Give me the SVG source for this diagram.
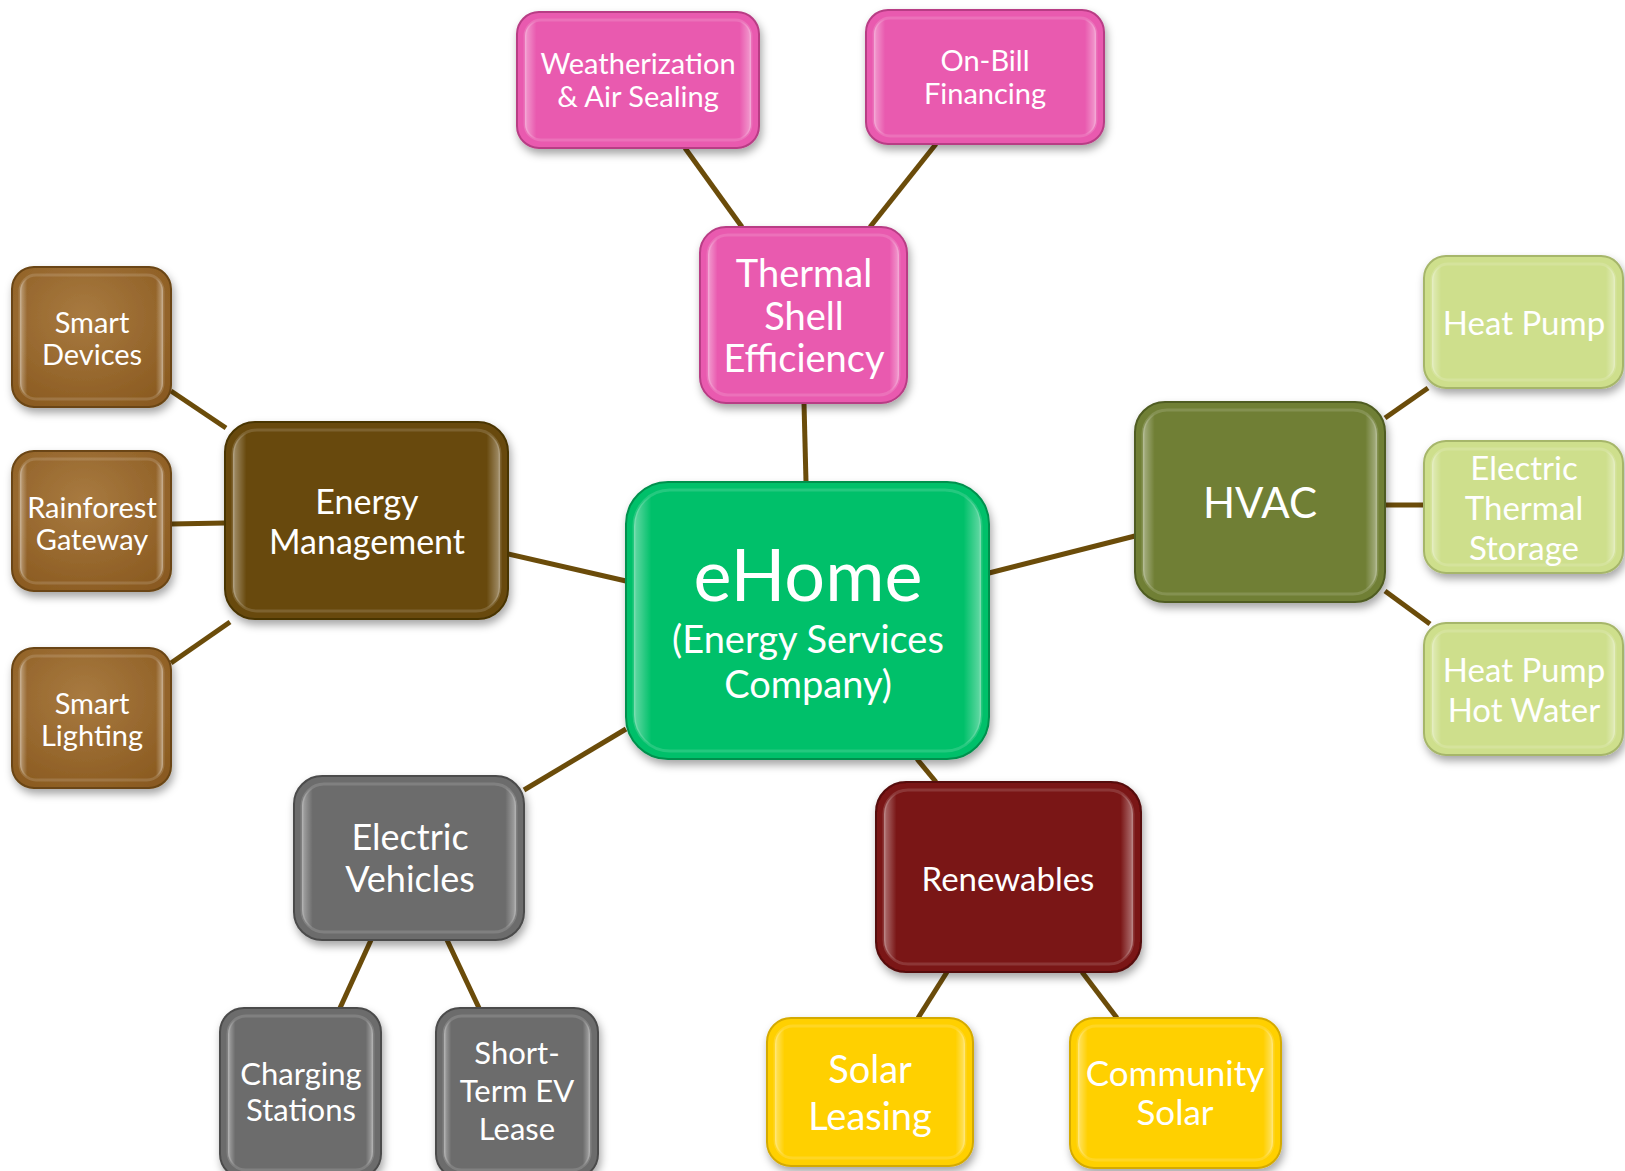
<svg xmlns="http://www.w3.org/2000/svg" width="1625" height="1171" viewBox="0 0 1625 1171">
<defs>
<filter id="sh" x="-10%" y="-10%" width="125%" height="130%">
<feDropShadow dx="2" dy="5" stdDeviation="4" flood-color="#000" flood-opacity="0.35"/>
</filter>
<linearGradient id="gloss" x1="0" y1="0" x2="1" y2="0">
<stop offset="0" stop-color="#fff" stop-opacity="0.4"/>
<stop offset="0.05" stop-color="#fff" stop-opacity="0.0"/>
<stop offset="0.95" stop-color="#fff" stop-opacity="0.0"/>
<stop offset="1" stop-color="#fff" stop-opacity="0.4"/>
</linearGradient>
<radialGradient id="brownG" cx="0.45" cy="0.35" r="0.75">
<stop offset="0" stop-color="#a87a40"/>
<stop offset="1" stop-color="#8a5a20"/>
</radialGradient>
</defs>
<style>
.box{filter:url(#sh);stroke-width:2}
.hl{fill:url(#gloss);stroke:#fff;stroke-opacity:0.14;stroke-width:3}
.t{font-family:Lato,"Open Sans","Liberation Sans",sans-serif;fill:#fff;text-anchor:middle}
.pink{fill:#e95aaf;stroke:#b83d85}
.green{fill:#00c06a;stroke:#00904e}
.emb{fill:#674a0c;stroke:#4a3406}
.brn{fill:url(#brownG);stroke:#6a4512}
.olive{fill:#6f7f34;stroke:#4f5c22}
.lgreen{fill:#cedf8c;stroke:#a6b66a}
.gray{fill:#6c6c6c;stroke:#4c4c4c}
.red{fill:#7a1212;stroke:#540a0a}
.yel{fill:#ffd000;stroke:#d4aa00}
#connectors line{stroke:#6b4c0a;stroke-width:5}
</style>
<rect width="1625" height="1171" fill="#fff"/>
<g id="connectors">
<line x1="685" y1="148" x2="742" y2="227"/>
<line x1="936" y1="144" x2="870" y2="227"/>
<line x1="804" y1="403" x2="806" y2="482"/>
<line x1="171" y1="391" x2="226" y2="428"/>
<line x1="171" y1="524" x2="225" y2="523"/>
<line x1="171" y1="663" x2="230" y2="622"/>
<line x1="508" y1="554" x2="626" y2="581"/>
<line x1="989" y1="573" x2="1135" y2="536"/>
<line x1="1385" y1="418" x2="1428" y2="388"/>
<line x1="1385" y1="505" x2="1424" y2="505"/>
<line x1="1385" y1="591" x2="1430" y2="624"/>
<line x1="626" y1="729" x2="524" y2="790"/>
<line x1="917" y1="759" x2="936" y2="782"/>
<line x1="371" y1="940" x2="340" y2="1008"/>
<line x1="447" y1="940" x2="479" y2="1008"/>
<line x1="947" y1="972" x2="918" y2="1018"/>
<line x1="1082" y1="972" x2="1117" y2="1018"/>
</g>
<g id="weatherization">
<rect class="box pink" x="517" y="12" width="242" height="136" rx="22"/>
<rect class="hl" x="525" y="20" width="226" height="120" rx="16"/>
<text class="t" font-size="29"><tspan x="638" y="74">Weatherization</tspan><tspan x="638" y="107">&amp; Air Sealing</tspan></text>
</g>
<g id="onbill">
<rect class="box pink" x="866" y="10" width="238" height="134" rx="22"/>
<rect class="hl" x="874" y="18" width="222" height="118" rx="16"/>
<text class="t" font-size="29"><tspan x="985" y="71">On-Bill</tspan><tspan x="985" y="104">Financing</tspan></text>
</g>
<g id="thermal">
<rect class="box pink" x="700" y="227" width="207" height="176" rx="26"/>
<rect class="hl" x="708" y="235" width="191" height="160" rx="20"/>
<text class="t" font-size="38"><tspan x="804" y="287">Thermal</tspan><tspan x="804" y="330">Shell</tspan><tspan x="804" y="372">Efficiency</tspan></text>
</g>
<g id="smartdevices">
<rect class="box brn" x="12" y="267" width="159" height="140" rx="22"/>
<rect class="hl" x="20" y="275" width="143" height="124" rx="16"/>
<text class="t" font-size="29"><tspan x="92" y="333">Smart</tspan><tspan x="92" y="365">Devices</tspan></text>
</g>
<g id="rainforest">
<rect class="box brn" x="12" y="451" width="159" height="140" rx="22"/>
<rect class="hl" x="20" y="459" width="143" height="124" rx="16"/>
<text class="t" font-size="29"><tspan x="92" y="518">Rainforest</tspan><tspan x="92" y="550">Gateway</tspan></text>
</g>
<g id="smartlighting">
<rect class="box brn" x="12" y="648" width="159" height="140" rx="22"/>
<rect class="hl" x="20" y="656" width="143" height="124" rx="16"/>
<text class="t" font-size="29"><tspan x="92" y="714">Smart</tspan><tspan x="92" y="746">Lighting</tspan></text>
</g>
<g id="energymgmt">
<rect class="box emb" x="225" y="422" width="283" height="197" rx="30"/>
<rect class="hl" x="233" y="430" width="267" height="181" rx="24"/>
<text class="t" font-size="34"><tspan x="367" y="514">Energy</tspan><tspan x="367" y="554">Management</tspan></text>
</g>
<g id="ehome">
<rect class="box green" x="626" y="482" width="363" height="277" rx="42"/>
<rect class="hl" x="634" y="490" width="347" height="261" rx="36"/>
<text class="t" font-size="72" x="808" y="601">eHome</text>
<text class="t" font-size="38"><tspan x="808" y="653">(Energy Services</tspan><tspan x="808" y="698">Company)</tspan></text>
</g>
<g id="hvac">
<rect class="box olive" x="1135" y="402" width="250" height="200" rx="30"/>
<rect class="hl" x="1143" y="410" width="234" height="184" rx="24"/>
<text class="t" font-size="42" x="1260" y="518">HVAC</text>
</g>
<g id="heatpump">
<rect class="box lgreen" x="1424" y="256" width="199" height="132" rx="22"/>
<rect class="hl" x="1432" y="264" width="183" height="116" rx="16"/>
<text class="t" font-size="33" x="1524" y="335">Heat Pump</text>
</g>
<g id="thermalstorage">
<rect class="box lgreen" x="1424" y="441" width="199" height="132" rx="22"/>
<rect class="hl" x="1432" y="449" width="183" height="116" rx="16"/>
<text class="t" font-size="33"><tspan x="1524" y="480">Electric</tspan><tspan x="1524" y="520">Thermal</tspan><tspan x="1524" y="560">Storage</tspan></text>
</g>
<g id="hotwater">
<rect class="box lgreen" x="1424" y="623" width="199" height="132" rx="22"/>
<rect class="hl" x="1432" y="631" width="183" height="116" rx="16"/>
<text class="t" font-size="33"><tspan x="1524" y="682">Heat Pump</tspan><tspan x="1524" y="722">Hot Water</tspan></text>
</g>
<g id="ev">
<rect class="box gray" x="294" y="776" width="230" height="164" rx="28"/>
<rect class="hl" x="302" y="784" width="214" height="148" rx="22"/>
<text class="t" font-size="36"><tspan x="410" y="850">Electric</tspan><tspan x="410" y="892">Vehicles</tspan></text>
</g>
<g id="charging">
<rect class="box gray" x="220" y="1008" width="161" height="170" rx="24"/>
<rect class="hl" x="228" y="1016" width="145" height="154" rx="18"/>
<text class="t" font-size="31"><tspan x="301" y="1085">Charging</tspan><tspan x="301" y="1121">Stations</tspan></text>
</g>
<g id="evlease">
<rect class="box gray" x="436" y="1008" width="162" height="170" rx="24"/>
<rect class="hl" x="444" y="1016" width="146" height="154" rx="18"/>
<text class="t" font-size="31"><tspan x="517" y="1064">Short-</tspan><tspan x="517" y="1102">Term EV</tspan><tspan x="517" y="1140">Lease</tspan></text>
</g>
<g id="renewables">
<rect class="box red" x="876" y="782" width="265" height="190" rx="30"/>
<rect class="hl" x="884" y="790" width="249" height="174" rx="24"/>
<text class="t" font-size="33" x="1008" y="891">Renewables</text>
</g>
<g id="solarleasing">
<rect class="box yel" x="767" y="1018" width="206" height="148" rx="24"/>
<rect class="hl" x="775" y="1026" width="190" height="132" rx="18"/>
<text class="t" font-size="38"><tspan x="870" y="1083">Solar</tspan><tspan x="870" y="1130">Leasing</tspan></text>
</g>
<g id="community">
<rect class="box yel" x="1070" y="1018" width="211" height="150" rx="24"/>
<rect class="hl" x="1078" y="1026" width="195" height="134" rx="18"/>
<text class="t" font-size="35"><tspan x="1175" y="1086">Community</tspan><tspan x="1175" y="1125">Solar</tspan></text>
</g>
</svg>
